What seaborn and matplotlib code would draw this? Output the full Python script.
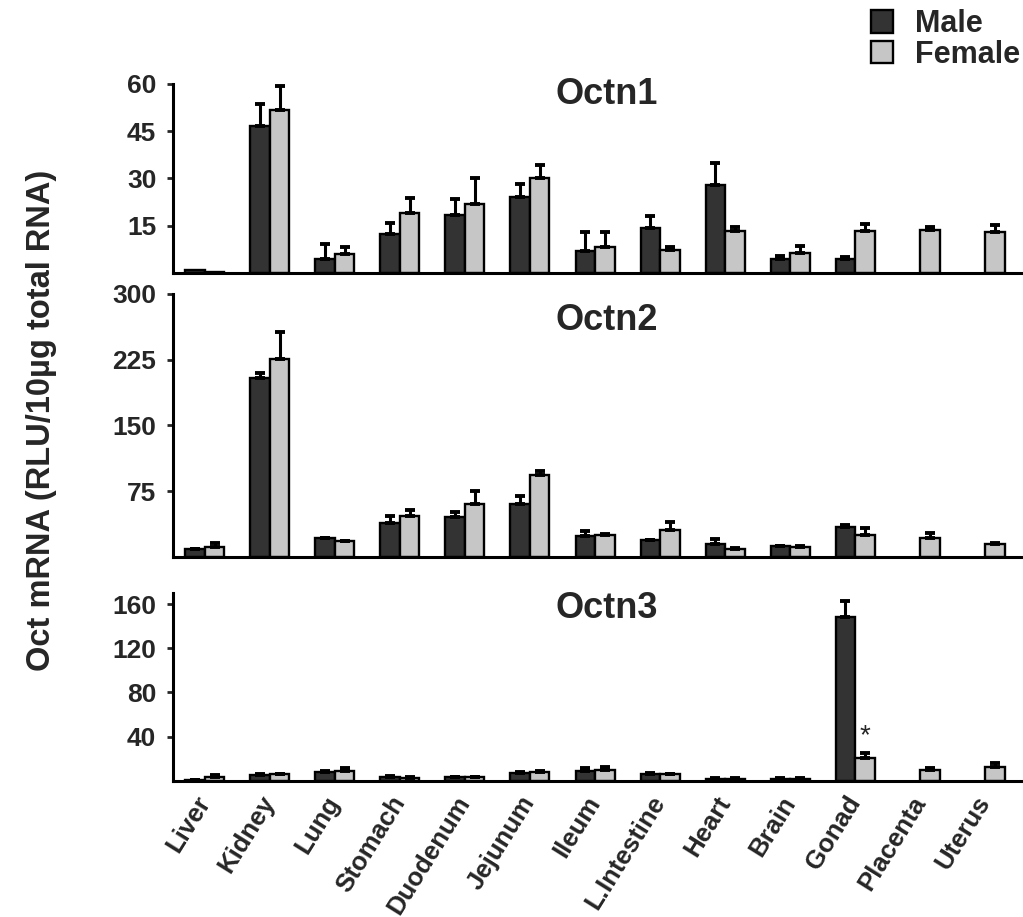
import numpy as np
import pandas as pd
import matplotlib
matplotlib.use('Agg')
import matplotlib.pyplot as plt
import seaborn as sns
from matplotlib.patches import Patch

# данные
tissues = ['Liver', 'Kidney', 'Lung', 'Stomach', 'Duodenum', 'Jejunum', 'Ileum',
           'L.Intestine', 'Heart', 'Brain', 'Gonad', 'Placenta', 'Uterus']
sexes = ['Male', 'Female']
nan = np.nan

octn1_male = [0.8, 46.7, 4.6, 12.4, 18.4, 24.2, 7.1, 14.2, 27.9, 4.6, 4.3, nan, nan]
octn1_male_err = [0.0, 7.1, 4.6, 3.4, 5.0, 4.2, 6.0, 3.9, 7.1, 0.7, 0.8, nan, nan]
octn1_female = [0.3, 51.7, 5.9, 18.9, 21.9, 30.0, 8.3, 7.3, 13.4, 6.2, 13.4, 13.8, 12.9]
octn1_female_err = [0.0, 7.7, 2.4, 5.0, 8.1, 4.2, 4.8, 1.0, 1.3, 2.4, 2.1, 0.9, 2.3]

octn2_male = [8.4, 203.6, 21.0, 38.8, 44.9, 60.2, 23.6, 19.1, 14.2, 12.2, 34.3, nan, nan]
octn2_male_err = [0.5, 5.8, 0.5, 7.6, 6.5, 9.1, 6.1, 0.5, 5.7, 0.4, 1.9, nan, nan]
octn2_female = [11.4, 225.7, 17.9, 46.4, 60.2, 93.3, 24.8, 30.5, 8.4, 11.4, 24.8, 21.7, 14.5]
octn2_female_err = [3.8, 31.2, 0.4, 6.9, 14.8, 4.5, 1.2, 9.5, 1.1, 0.5, 7.6, 5.0, 0.9]

octn3_male = [0.8, 5.2, 7.6, 3.3, 3.3, 6.7, 9.0, 6.0, 2.0, 2.0, 147.9, nan, nan]
octn3_male_err = [0.3, 1.2, 1.1, 1.0, 0.5, 0.9, 2.8, 1.3, 0.5, 0.5, 14.8, nan, nan]
octn3_female = [3.6, 5.8, 9.0, 2.6, 3.3, 7.6, 9.7, 6.0, 2.0, 2.0, 20.3, 9.7, 12.7]
octn3_female_err = [1.4, 0.6, 2.8, 0.5, 0.5, 1.1, 3.0, 0.5, 0.5, 0.5, 5.0, 1.5, 3.0]

panels = [
    ('Octn1', octn1_male, octn1_male_err, octn1_female, octn1_female_err, 60, [15, 30, 45, 60]),
    ('Octn2', octn2_male, octn2_male_err, octn2_female, octn2_female_err, 300, [75, 150, 225, 300]),
    ('Octn3', octn3_male, octn3_male_err, octn3_female, octn3_female_err, 170, [40, 80, 120, 160]),
]

sns.set_style('white')
plt.rcParams['font.family'] = ['Liberation Sans', 'DejaVu Sans']
plt.rcParams['font.weight'] = 'bold'

colors = {'Male': '#333333', 'Female': '#c6c6c6'}

fig = plt.figure(figsize=(10.23, 9.17), dpi=100)
# позиции осей (доли фигуры)
rects = [[0.169, 0.7023, 0.831, 0.2061],
         [0.169, 0.3929, 0.831, 0.2865],
         [0.169, 0.1486, 0.831, 0.2047]]
title_y = [0.942, 0.899, 0.915]

for k, (name, m, me, f, fe, ytop, yt) in enumerate(panels):
    ax = fig.add_axes(rects[k])
    df = pd.DataFrame({
        'tissue': tissues * 2,
        'sex': ['Male'] * len(tissues) + ['Female'] * len(tissues),
        'value': list(m) + list(f),
    }).dropna()
    errs = {'Male': me, 'Female': fe}
    sns.barplot(data=df, x='tissue', y='value', hue='sex', order=tissues, hue_order=sexes,
                palette=colors, saturation=1, width=0.6, errorbar=None,
                edgecolor='black', linewidth=1.7, legend=False, ax=ax)
    for cont, sex in zip(ax.containers, sexes):
        for bar in cont:
            cx = bar.get_x() + bar.get_width() / 2
            h = bar.get_height()
            i = int(round(cx))
            e = errs[sex][i]
            if np.isnan(h) or np.isnan(e) or e <= 0:
                continue
            ax.errorbar(cx, h, yerr=[[0], [e]], fmt='none', ecolor='black',
                        elinewidth=2.2, capsize=3.5, capthick=2.8, zorder=3)
    ax.set_xlim(-0.49, 12.58)
    ax.set_ylim(0, ytop)
    ax.set_yticks(yt)
    ax.set_xlabel('')
    ax.set_ylabel('')
    sns.despine(ax=ax)
    for s in ['left', 'bottom']:
        ax.spines[s].set_linewidth(2.2)
        ax.spines[s].set_color('black')
    ax.tick_params(axis='y', left=True, length=4, width=2, pad=8, labelsize=19)
    ax.tick_params(axis='x', bottom=False)
    for lab in ax.get_yticklabels():
        lab.set_fontweight('bold')
    ax.text(0.51, title_y[k], name, transform=ax.transAxes, ha='center', va='center',
            fontsize=26, fontweight='bold')
    if k < 2:
        ax.tick_params(axis='x', labelbottom=False)
    else:
        ax.set_xticks(range(len(tissues)))
        ax.set_xticklabels(tissues, rotation=58, ha='right', va='center',
                           rotation_mode='anchor', fontsize=18.5, fontweight='bold')
        ax.tick_params(axis='x', pad=9)
        # звёздочка над Gonad (Female)
        gi = tissues.index('Gonad')
        ax.text(gi + 0.15, f[gi] + fe[gi] + 3, '*', ha='center', va='bottom',
                fontsize=20, fontweight='normal')

fig.text(0.041, 0.542, 'Oct mRNA (RLU/10µg total RNA)', rotation=90, ha='center',
         va='center', fontsize=23.5, fontweight='bold')

handles = [Patch(facecolor=colors[s], edgecolor='black', linewidth=1.7, label=s) for s in sexes]
fig.legend(handles=handles, loc='upper left', bbox_to_anchor=(0.851, 0.99), frameon=False,
           prop={'size': 22, 'weight': 'bold'}, handlelength=0.75, handleheight=0.75,
           handletextpad=0.7, labelspacing=0.02, borderpad=0, borderaxespad=0)

fig.savefig('out.png', dpi=100)
